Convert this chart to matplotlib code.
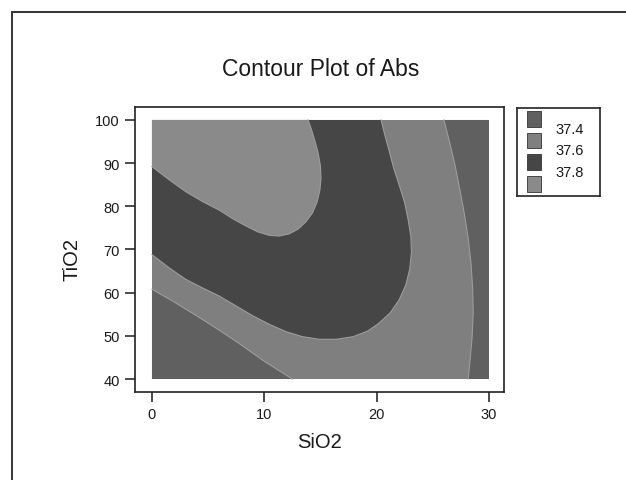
import matplotlib
matplotlib.use("Agg")
import matplotlib.pyplot as plt
from matplotlib.lines import Line2D
from matplotlib.patches import Rectangle

plt.rcParams['font.family'] = ['Liberation Sans', 'DejaVu Sans']

# data range of the response surface
sio2_range = [0, 30]
tio2_range = [40, 100]

# contour levels and fill colours (lowest band first)
levels = [37.4, 37.6, 37.8]
band_colors = ['#606060', '#7f7f7f', '#464646', '#8a8a8a']

# contour lines (SiO2, TiO2)
c378_x = [0, 1.5, 3.0, 4.5, 6.0, 7.2, 8.4, 9.4, 10.4, 11.3, 12.2, 13.0, 13.7, 14.3,
          14.7, 14.95, 15.05, 15.0, 14.8, 14.5, 14.2, 13.9]
c378_y = [89.2, 86.2, 83.4, 81.1, 79.1, 77.1, 75.4, 74.1, 73.3, 73.1, 73.6, 74.7, 76.4, 78.5,
          81.0, 83.7, 86.5, 89.3, 92.3, 95.2, 97.8, 100]

c376_x = [0, 1.5, 3.0, 4.5, 6.0, 7.5, 9.0, 10.5, 11.9, 13.4, 14.9, 16.4, 17.9, 19.2, 20.2,
          21.2, 22.0, 22.6, 22.95, 23.1, 23.05, 22.8, 22.5, 22.0, 21.5, 21.1, 20.7, 20.4]
c376_y = [68.8, 65.8, 63.1, 61.1, 59.2, 56.9, 54.6, 52.6, 51.0, 49.8, 49.2, 49.2, 49.8, 51.1, 52.9,
          55.3, 58.3, 61.8, 65.5, 69.3, 73.0, 77.0, 80.8, 85.0, 89.0, 93.0, 96.8, 100]

c374_right_x = [26.0, 26.5, 26.95, 27.4, 27.8, 28.15, 28.4, 28.55, 28.6, 28.5, 28.3, 28.15]
c374_right_y = [100, 94.8, 89.9, 84.0, 78.4, 72.6, 66.9, 61.0, 55.4, 49.6, 43.9, 40]

c374_left_x = [0, 2.0, 4.0, 6.0, 8.0, 10.0, 12.5]
c374_left_y = [60.8, 57.8, 54.6, 51.3, 47.8, 44.1, 40]

W, H = 626, 481
fig = plt.figure(figsize=(W / 100, H / 100), dpi=100)

# outer graph frame (cut off by the scan on the right and bottom)
fig.add_artist(Line2D([12 / W, 12 / W], [1 - 13 / H, 0], color='#333333', lw=1.4))
fig.add_artist(Line2D([12 / W, 1], [1 - 13 / H, 1 - 13 / H], color='#333333', lw=1.4))

ax = fig.add_axes([135 / W, 1 - 393 / H, 369 / W, 285 / H])
x0, x1 = sio2_range
y0, y1 = tio2_range

# 37.4 - 37.6 everywhere as the base
ax.fill([x0, x1, x1, x0], [y0, y0, y1, y1], color=band_colors[1], lw=0)

# below 37.4: right strip and lower-left corner
ax.fill(c374_right_x + [x1, x1], c374_right_y + [y0, y1], color=band_colors[0], lw=0)
ax.fill(c374_left_x + [x0], c374_left_y + [y0], color=band_colors[0], lw=0)

# 37.6 - 37.8 band
ax.fill(c376_x + [x0], c376_y + [y1], color=band_colors[2], lw=0)

# above 37.8
ax.fill(c378_x + [x0], c378_y + [y1], color=band_colors[3], lw=0)

# faint light contour edges, as in the print
for cx, cy in [(c374_right_x, c374_right_y), (c374_left_x, c374_left_y),
               (c376_x, c376_y), (c378_x, c378_y)]:
    ax.plot(cx, cy, color='#9c9c9c', lw=0.8)

ax.set_xlim(-1.51, 31.34)
ax.set_ylim(36.99, 103.0)
ax.set_xticks([0, 10, 20, 30])
ax.set_yticks([40, 50, 60, 70, 80, 90, 100])
ax.tick_params(direction='out', length=7, width=1.1, pad=4, labelsize=10.5, colors='#1a1a1a')
for s in ax.spines.values():
    s.set_linewidth(1.2)
    s.set_color('#222222')

ax.set_xlabel('SiO2', fontsize=14.5, color='#1a1a1a')
ax.xaxis.label.set_verticalalignment('center')
ax.xaxis.set_label_coords(0.5, -0.175)
ax.set_ylabel('TiO2', fontsize=14.5, color='#1a1a1a')
ax.yaxis.label.set_verticalalignment('center')
ax.yaxis.set_label_coords(-0.171, 0.47)

fig.text(321 / W, 1 - 70 / H, 'Contour Plot of Abs', ha='center', va='center',
         fontsize=16.5, color='#1a1a1a')

# Minitab style legend: swatches with the level values between them
lg = fig.add_axes([517 / W, 1 - 197 / H, 83 / W, 88 / H])
lg.set_xlim(0, 83)
lg.set_ylim(88, 0)
lg.set_xticks([])
lg.set_yticks([])
for s in lg.spines.values():
    s.set_linewidth(1.2)
    s.set_color('#222222')
for i, c in enumerate(band_colors):
    lg.add_patch(Rectangle((10, 3 + i * 21.7), 14, 15.5, facecolor=c,
                           edgecolor='#333333', lw=0.6))
for i, lev in enumerate(levels):
    lg.text(38, 21 + i * 21.5, f'{lev:.1f}', ha='left', va='center',
            fontsize=10.5, color='#1a1a1a')

fig.savefig('out.png', dpi=100)
